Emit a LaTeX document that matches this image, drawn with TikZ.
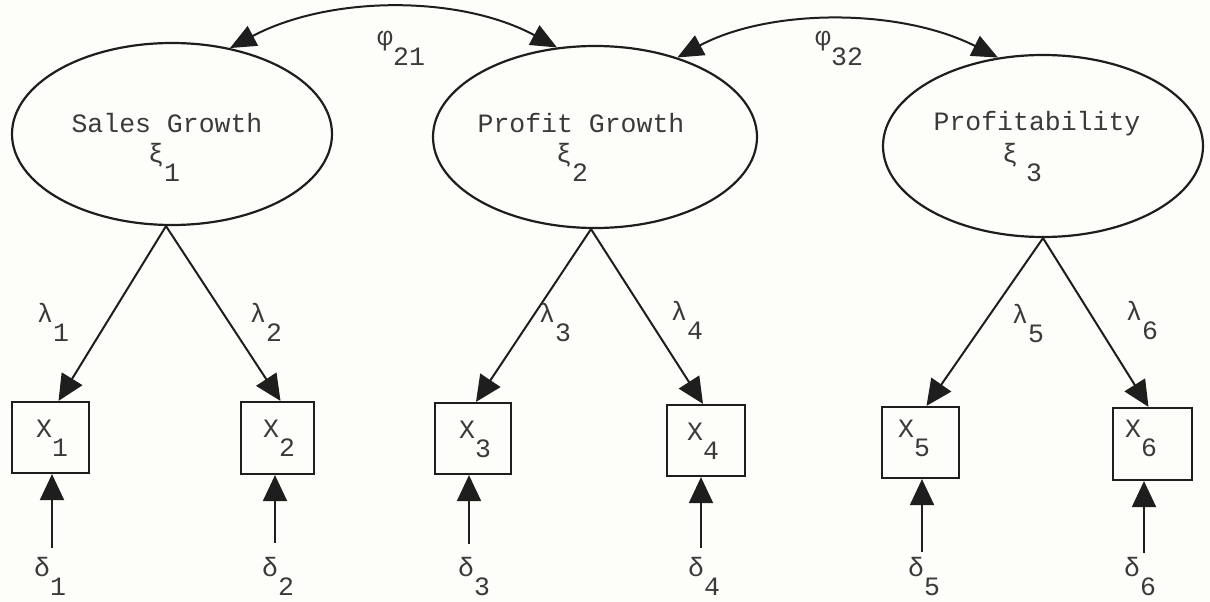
\documentclass[tikz,border=0pt]{standalone}
\usepackage{fontspec}
\setmonofont{Liberation Mono}
\usetikzlibrary{shapes.geometric,arrows.meta}
\definecolor{ink}{HTML}{1E1E1E}
\definecolor{txt}{HTML}{3A3A3A}
\definecolor{paper}{HTML}{FDFDFA}
\newcommand\lowr[1]{\raisebox{-0.72em}{#1}}
\tikzset{
  latent/.style={ellipse, draw=ink, line width=2.2pt, inner sep=0pt},
  obsbox/.style={rectangle, draw=ink, line width=2.2pt, inner sep=0pt},
  lab/.style={inner sep=0pt, text=txt, font=\ttfamily\fontsize{26.5}{30}\selectfont},
  sym/.style={lab, anchor=base west},
  conn/.style={draw=ink, line width=2pt, -{Triangle[length=26pt,width=24pt]}},
  cov/.style={draw=ink, line width=2pt, {Triangle[length=26pt,width=22pt]}-{Triangle[length=26pt,width=22pt]}}
}
\begin{document}
\begin{tikzpicture}[x=1pt,y=-1pt]
\path[use as bounding box, fill=paper] (0,0) rectangle (1210,602);

% latent variables
\node[latent, minimum width=320pt, minimum height=182pt] (e1) at (172,134) {};
\node[latent, minimum width=324pt, minimum height=182pt] (e2) at (595,137) {};
\node[latent, minimum width=320pt, minimum height=182pt] (e3) at (1043,146) {};
\node[lab, anchor=base] (t1) at (167,132) {Sales Growth};
\node[lab, anchor=base] (t2) at (581,132) {Profit Growth};
\node[lab, anchor=base] (t3) at (1037,130) {Profitability};
\node[sym] (k1) at (148,162) {ξ\lowr{1}};
\node[sym] (k2) at (556,162) {ξ\lowr{2}};
\node[sym] (k3) at (1002,162) {ξ\kern8pt\lowr{3}};

% observed variables
\node[obsbox, minimum width=77pt, minimum height=71pt] (x1) at (50.5,437.5) {};
\node[obsbox, minimum width=73pt, minimum height=72pt] (x2) at (277.5,438) {};
\node[obsbox, minimum width=76pt, minimum height=71pt] (x3) at (473,438.5) {};
\node[obsbox, minimum width=78pt, minimum height=71pt] (x4) at (706,440.5) {};
\node[obsbox, minimum width=77pt, minimum height=71pt] (x5) at (920.5,442.5) {};
\node[obsbox, minimum width=79pt, minimum height=72pt] (x6) at (1152.5,444) {};
\node[sym] (lx1) at (36,437) {X\lowr{1}};
\node[sym] (lx2) at (263,437) {X\lowr{2}};
\node[sym] (lx3) at (459,438) {X\lowr{3}};
\node[sym] (lx4) at (687,440) {X\lowr{4}};
\node[sym] (lx5) at (898,437) {X\lowr{5}};
\node[sym] (lx6) at (1125,437) {X\lowr{6}};

% loadings
\draw[conn] ([xshift=-6pt]e1.south) -- ([xshift=8pt]x1.north);
\draw[conn] ([xshift=-6pt]e1.south) -- ([xshift=3pt]x2.north);
\draw[conn] ([xshift=-4pt]e2.south) -- ([xshift=3pt]x3.north);
\draw[conn] ([xshift=-4pt]e2.south) -- ([xshift=-3pt]x4.north);
\draw[conn] (e3.south) -- ([xshift=6pt]x5.north);
\draw[conn] (e3.south) -- ([xshift=-4pt]x6.north);
\node[sym] (l1) at (37,322) {λ\lowr{1}};
\node[sym] (l2) at (250,322) {λ\lowr{2}};
\node[sym] (l3) at (539,322) {λ\lowr{3}};
\node[sym] (l4) at (671,320) {λ\lowr{4}};
\node[sym] (l5) at (1012,323) {λ\lowr{5}};
\node[sym] (l6) at (1126,320) {λ\lowr{6}};

% errors
\coordinate (d1) at (52,548);
\coordinate (d2) at (275,543);
\coordinate (d3) at (469,544);
\coordinate (d4) at (701,548);
\coordinate (d5) at (922,552);
\coordinate (d6) at (1144,553);
\draw[conn] (d1) -- (d1 |- x1.south);
\draw[conn] (d2) -- (d2 |- x2.south);
\draw[conn] (d3) -- (d3 |- x3.south);
\draw[conn] (d4) -- (d4 |- x4.south);
\draw[conn] (d5) -- (d5 |- x5.south);
\draw[conn] (d6) -- (d6 |- x6.south);
\node[sym] (s1) at (34,576) {δ\lowr{1}};
\node[sym] (s2) at (262,576) {δ\lowr{2}};
\node[sym] (s3) at (458,576) {δ\lowr{3}};
\node[sym] (s4) at (688,576) {δ\lowr{4}};
\node[sym] (s5) at (908,576) {δ\lowr{5}};
\node[sym] (s6) at (1124,576) {δ\lowr{6}};

% covariances
\draw[cov] (e1.56) .. controls (330,-5) and (460,-5) .. (e2.113);
\draw[cov] (e2.44) .. controls (770,8) and (900,8) .. (e3.117);
\node[sym] (p21) at (377,46) {φ\lowr{21}};
\node[sym] (p32) at (815,46) {φ\lowr{32}};
\end{tikzpicture}
\end{document}
